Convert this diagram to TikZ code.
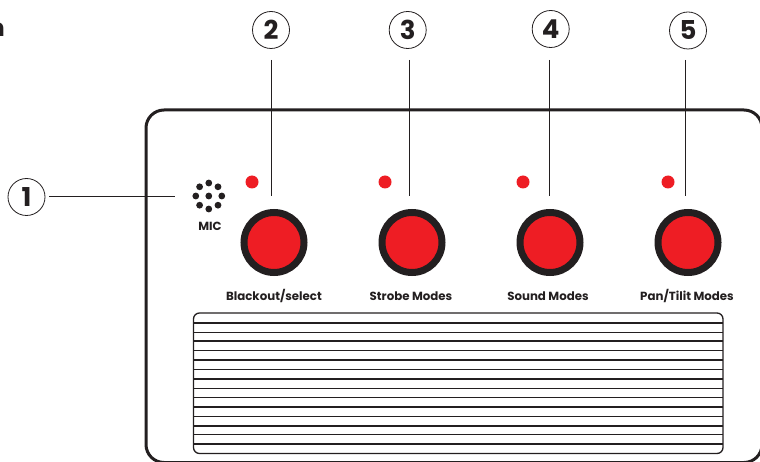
\documentclass[tikz,border=0pt]{standalone}
\usepackage{fontspec}
\setmainfont{Poppins}
\definecolor{ledred}{RGB}{238,29,36}
\definecolor{ink}{RGB}{35,31,32}
\tikzset{
  num/.style={circle,draw=ink,line width=0.8pt,minimum size=37pt,inner sep=0pt,text=ink,font=\fontsize{26}{26}\selectfont\bfseries},
  lead/.style={draw=ink,line width=0.8pt},
  led/.style={circle,fill=ledred,minimum size=13pt,inner sep=0pt},
  btn/.style={circle,fill=ledred,draw=ink,line width=7pt,minimum size=60pt,inner sep=0pt},
  caption/.style={text=ink,font=\fontsize{11.8}{13}\selectfont\bfseries,inner sep=0pt},
  micdot/.style={circle,fill=ink,minimum size=6.8pt,inner sep=0pt},
  grilleline/.style={draw=ink,line width=1.3pt}
}
\begin{document}
\begin{tikzpicture}[x=1pt,y=-1pt]
\useasboundingbox (0,0) rectangle (760,462);
\clip (0,0) rectangle (760,462);
\node[text=ink,font=\fontsize{24}{24}\selectfont\bfseries,anchor=east,inner sep=0pt] (cut) at (5,29.5) {n};
% body
\draw[ink,line width=3pt,rounded corners=18pt] (146,462.5) -- (146,110) -- (762,110) -- (762,462.5) -- cycle;
% grille
\draw[ink,line width=1.3pt,rounded corners=6pt] (193.5,313) rectangle (723,453.5);
\foreach \yy in {323,332.5,341,350.5,360,369.5,379,388.5,397.5,407,416.5,426,434.5,444}{
  \draw[grilleline] (193.5,\yy) -- (723,\yy);
}
% callouts
\node[num] (n1) at (26.5,197) {1};
\node[num] (n2) at (271,30) {2};
\node[num] (n3) at (407.7,30) {3};
\node[num] (n4) at (550.7,29) {4};
\node[num] (n5) at (688,30.5) {5};
\coordinate (e1) at (174.5,196);
\coordinate (e2) at (271,196);
\coordinate (e3) at (409.3,196);
\coordinate (e4) at (549.5,196);
\coordinate (e5) at (685.5,196);
\draw[lead] (49,196) -- (e1);
\draw[lead] (271,60) -- (e2);
\draw[lead] (409.3,60) -- (e3);
\draw[lead] (549.5,60) -- (e4);
\draw[lead] (685.5,60) -- (e5);
% leds
\node[led] (l1) at (252,182) {};
\node[led] (l2) at (385,182) {};
\node[led] (l3) at (523,182) {};
\node[led] (l4) at (668,182) {};
% buttons
\node[btn] (b1) at (274,242.5) {};
\node[btn] (b2) at (412,242.5) {};
\node[btn] (b3) at (550,242.5) {};
\node[btn] (b4) at (688,242.5) {};
% captions
\node[caption] (c1) at (274,296) {Blackout/select};
\node[caption] (c2) at (411,296) {Strobe Modes};
\node[caption] (c3) at (548,296) {Sound Modes};
\node[caption] (c4) at (687,296) {Pan/Tilit Modes};
% mic
\node[micdot] (m0) at (208.8,196) {};
\foreach \a in {0,45,...,315}{
  \node[micdot] at ({208.8+13*cos(\a)},{196+13*sin(\a)}) {};
}
\node[caption] (mic) at (210,226) {MIC};
\end{tikzpicture}
\end{document}
